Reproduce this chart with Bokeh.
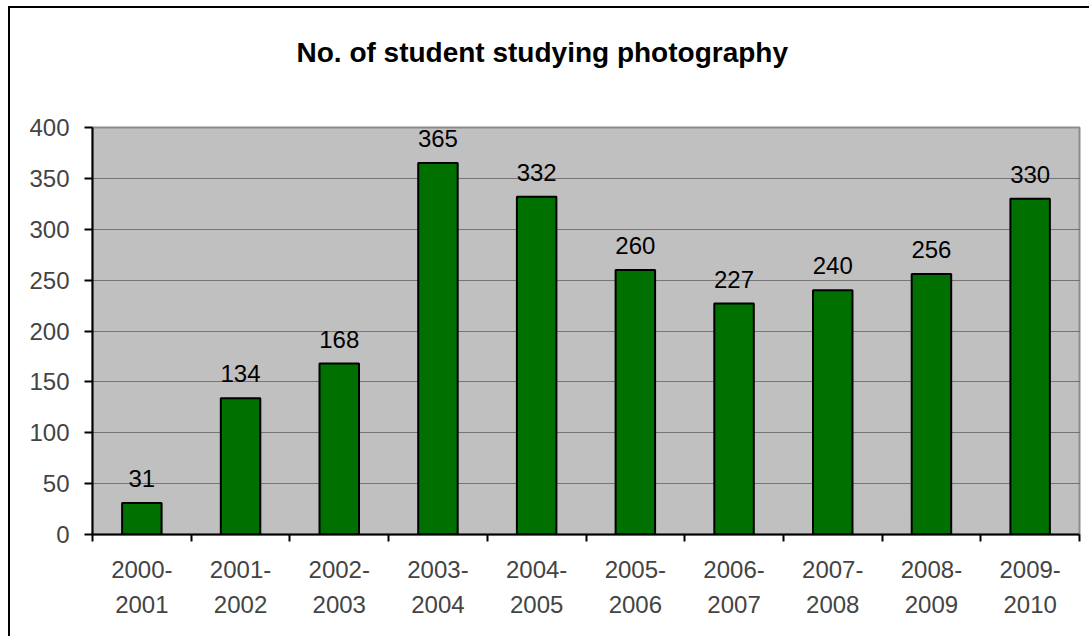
from bokeh.plotting import figure
from bokeh.models import Range1d, FixedTicker, ColumnDataSource, LabelSet, Title
from bokeh.core.properties import value
from bokeh.embed import file_html
from bokeh.resources import INLINE

# Academic years and enrolment counts
years = ["2000-\n2001", "2001-\n2002", "2002-\n2003", "2003-\n2004", "2004-\n2005",
         "2005-\n2006", "2006-\n2007", "2007-\n2008", "2008-\n2009", "2009-\n2010"]
students = [31, 134, 168, 365, 332, 260, 227, 240, 256, 330]
y_ticks = [0, 50, 100, 150, 200, 250, 300, 350, 400]
chart_title = "No. of student studying photography"

FONT = "Liberation Sans"

centers = [i + 0.5 for i in range(len(years))]
source = ColumnDataSource(dict(x=centers, y=students, label=[str(v) for v in students]))

p = figure(width=1081, height=630, output_backend="svg", toolbar_location=None,
           x_range=Range1d(0, len(years)), y_range=Range1d(0, 400),
           min_border_left=82, min_border_right=12, min_border_top=119, min_border_bottom=104,
           title=chart_title)
p.margin = (6, 0, 0, 8)
p.styles = {"border-left": "2px solid black", "border-top": "2px solid black"}

# blank band between the heading and the plot frame
p.add_layout(Title(text=" ", text_font_size="10px", standoff=45), "above")

# heading sits centred on the whole chart box, a little left of the frame centre
p.title.align = "left"
p.title.vertical_align = "top"
p.title.offset = 204
p.title.standoff = 0
p.title.text_font = FONT
p.title.text_font_size = "28px"
p.title.text_font_style = "bold"
p.title.text_color = "black"

p.background_fill_color = "#C0C0C0"
p.border_fill_color = "white"
p.outline_line_color = "#8C8C8C"
p.outline_line_width = 2

p.vbar(x="x", top="y", width=0.4, source=source, fill_color="#007000",
       line_color="black", line_width=2)

labels = LabelSet(x="x", y="y", text="label", source=source, y_offset=16,
                  text_align="center", text_baseline="bottom",
                  text_font=value(FONT), text_font_size=value("24px"), text_color="black")
p.add_layout(labels)

# x axis: labels at band centres, tick marks at band boundaries
xa = p.xaxis[0]
xa.ticker = FixedTicker(ticks=centers, minor_ticks=list(range(len(years) + 1)))
xa.major_label_overrides = {c: lab for c, lab in zip(centers, years)}
xa.major_tick_line_color = None
xa.major_tick_out = 0
xa.major_tick_in = 0
xa.minor_tick_line_color = "black"
xa.minor_tick_line_width = 2
xa.minor_tick_out = 7
xa.minor_tick_in = 0
xa.major_label_standoff = 14
xa.major_label_text_font = FONT
xa.major_label_text_font_size = "24px"
xa.major_label_text_line_height = 1.3
xa.axis_line_width = 2
xa.axis_line_color = "black"

ya = p.yaxis[0]
ya.ticker = FixedTicker(ticks=y_ticks)
ya.major_tick_out = 8
ya.major_tick_in = 0
ya.major_tick_line_width = 2
ya.minor_tick_line_color = None
ya.major_label_standoff = 15
ya.major_label_text_font = FONT
ya.major_label_text_font_size = "24px"
ya.axis_line_width = 2
ya.axis_line_color = "black"

p.xgrid.grid_line_color = None
p.ygrid.ticker = FixedTicker(ticks=y_ticks)
p.ygrid.grid_line_color = "#2A2A2A"
p.ygrid.grid_line_dash = "1 1"
p.ygrid.grid_line_width = 1

open("out.html", "w").write(file_html(p, INLINE))
